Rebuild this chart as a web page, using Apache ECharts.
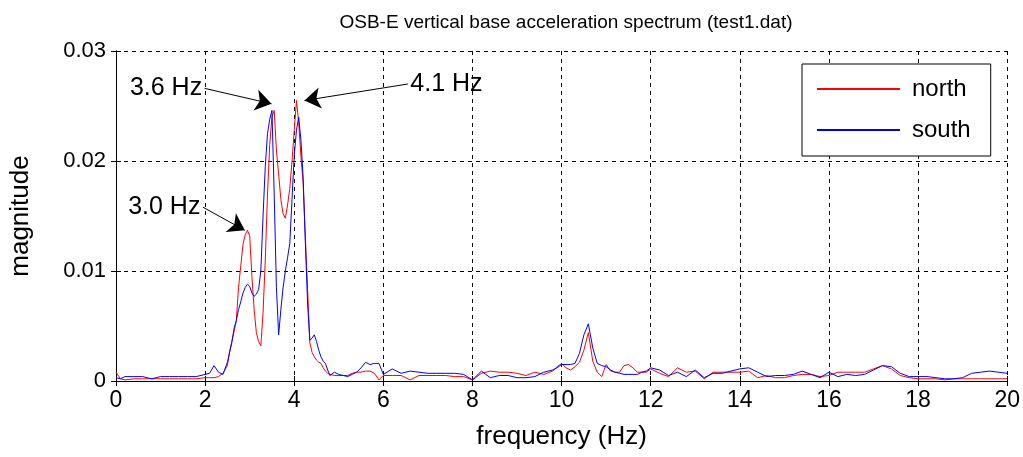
<!DOCTYPE html>
<html>
<head>
<meta charset="utf-8">
<script src="https://cdn.jsdelivr.net/npm/echarts@6/dist/echarts.min.js"></script>
<style>html,body{margin:0;padding:0;background:#fff}#c{width:1023px;height:457px}</style>
</head>
<body>
<div id="c"></div>
<script>
// frequency grid (Hz)
const freq = [
  0,0.1,0.2,0.4,0.6,0.8,1.0,1.2,1.4,1.6,1.8,2.0,
  2.1,2.2,2.3,2.4,2.5,
  2.55,2.60,2.65,2.70,2.75,2.80,2.85,2.90,2.95,
  3.00,3.05,3.10,3.15,3.20,3.25,3.30,3.35,3.40,3.45,3.50,3.55,3.60,3.65,3.70,3.75,3.80,3.85,3.90,3.95,
  4.00,4.05,4.10,4.15,4.20,4.25,4.30,4.35,4.40,4.45,4.50,4.55,4.60,4.65,4.70,4.75,4.80,
  4.9,5.0,5.1,5.2,5.3,5.4,5.5,5.6,5.7,5.8,5.9,6.0,
  6.2,6.4,6.6,6.8,7.0,7.2,7.4,7.6,7.8,8.0,8.2,8.4,8.6,8.8,9.0,9.2,9.4,9.6,9.8,
  9.9,10.0,10.1,10.2,10.3,10.4,10.5,10.6,10.7,10.8,10.9,11.0,11.1,11.2,11.3,11.4,11.5,11.6,11.7,11.8,11.9,12.0,
  12.2,12.4,12.6,12.8,13.0,13.2,13.4,13.6,13.8,14.0,14.2,14.4,14.6,14.8,15.0,15.2,15.4,15.6,15.8,16.0,
  16.2,16.4,16.6,16.8,17.0,17.2,17.4,17.6,17.8,18.0,18.2,18.4,18.6,18.8,19.0,19.2,19.4,19.6,19.8,20.0
];
const north = [
  0.0008,0.0002,0.0001,0.0002,0.0002,0.0002,0.0002,0.0002,0.0002,0.0002,0.0002,0.0003,
  0.0003,0.0003,0.0004,0.0007,0.0014,
  0.0027,0.0036,0.0045,0.0055,0.0085,0.0105,0.0124,0.0133,0.0137,
  0.0132,0.0095,0.0065,0.0044,0.0036,0.0032,0.0062,0.0110,0.0170,0.0215,0.0240,0.0246,0.0210,0.0188,0.0165,0.0152,0.0148,0.0160,0.0175,0.0200,
  0.0228,0.0255,0.0235,0.0204,0.0180,0.0130,0.0083,0.0035,0.0026,0.0022,0.0019,0.0017,0.0016,0.0012,0.0009,0.0007,0.0006,
  0.0005,0.0005,0.0005,0.0005,0.0007,0.0008,0.0008,0.0009,0.0009,0.0007,0.0001,0.0005,
  0.0005,0.0005,0.0001,0.0005,0.0005,0.0005,0.0005,0.0004,0.0004,0.0001,0.0007,0.0009,0.0008,0.0008,0.0007,0.0005,0.0008,0.0006,0.0009,
  0.0013,0.0016,0.0012,0.0010,0.0013,0.0017,0.0028,0.0044,0.0018,0.0008,0.0004,0.0015,0.0009,0.0008,0.0008,0.0014,0.0015,0.0012,0.0008,0.0008,0.0008,0.0011,
  0.0007,0.0004,0.0012,0.0008,0.0009,0.0002,0.0008,0.0008,0.0008,0.0008,0.0009,0.0003,0.0005,0.0003,0.0003,0.0005,0.0006,0.0006,0.0004,0.0005,
  0.0008,0.0008,0.0008,0.0008,0.0011,0.0014,0.0011,0.0005,0.0003,0.0002,0.0002,0.0002,0.0001,0.0002,0.0002,0.0002,0.0002,0.0002,0.0002,0.0002
];
const south = [
  0.0003,0.0002,0.0004,0.0004,0.0004,0.0002,0.0004,0.0004,0.0004,0.0004,0.0004,0.0006,
  0.0007,0.0014,0.0008,0.0006,0.0017,
  0.0026,0.0035,0.0048,0.0055,0.0065,0.0072,0.0080,0.0085,0.0088,
  0.0086,0.0080,0.0077,0.0079,0.0083,0.0100,0.0150,0.0195,0.0225,0.0238,0.0246,0.0170,0.0085,0.0042,0.0065,0.0085,0.0100,0.0112,0.0125,0.0165,
  0.0205,0.0228,0.0240,0.0219,0.0185,0.0125,0.0070,0.0037,0.0039,0.0042,0.0036,0.0028,0.0022,0.0018,0.0016,0.0010,0.0005,
  0.0008,0.0006,0.0005,0.0004,0.0006,0.0008,0.0012,0.0017,0.0015,0.0016,0.0016,0.0006,
  0.0011,0.0007,0.0009,0.0008,0.0007,0.0007,0.0007,0.0007,0.0006,0.0001,0.0009,0.0003,0.0005,0.0005,0.0003,0.0003,0.0004,0.0008,0.0010,
  0.0012,0.0015,0.0015,0.0015,0.0016,0.0025,0.0042,0.0052,0.0030,0.0016,0.0014,0.0013,0.0010,0.0008,0.0007,0.0006,0.0006,0.0006,0.0006,0.0008,0.0009,0.0012,
  0.0010,0.0005,0.0008,0.0004,0.0010,0.0003,0.0007,0.0007,0.0009,0.0011,0.0012,0.0008,0.0004,0.0005,0.0005,0.0006,0.0009,0.0006,0.0003,0.0008,
  0.0004,0.0006,0.0005,0.0006,0.0010,0.0014,0.0013,0.0007,0.0004,0.0004,0.0004,0.0003,0.0002,0.0002,0.0003,0.0007,0.0008,0.0009,0.0008,0.0007
];
// annotations: label text, label anchor [Hz, magnitude], arrow tip [Hz, magnitude], side of text
const annoText  = ['3.6 Hz', '4.1 Hz', '3.0 Hz'];
const annoFrom  = [[1.99, 0.0266], [6.55, 0.0270], [1.95, 0.0158]];
const annoTo    = [[3.49, 0.0252], [4.23, 0.0255], [2.89, 0.0137]];
const annoSide  = ['left', 'right', 'left'];

const FONT = "'Liberation Sans', Arial, sans-serif";
const chart = echarts.init(document.getElementById('c'), null, {renderer: 'canvas'});
const toPairs = arr => freq.map((f, i) => [f, arr[i]]);

chart.setOption({
  animation: false,
  backgroundColor: '#fff',
  title: {
    text: 'OSB-E vertical base acceleration spectrum (test1.dat)',
    left: 561, top: 8, textAlign: 'center',
    textStyle: {fontFamily: FONT, fontSize: 19, fontWeight: 'normal', color: '#000'}
  },
  legend: {
    data: ['north', 'south'],
    orient: 'vertical',
    left: 802, top: 64,
    backgroundColor: '#fff',
    borderColor: '#000', borderWidth: 1,
    padding: [13, 20, 14, 15],
    itemWidth: 83, itemHeight: 2, itemGap: 17,
    icon: 'rect',
    textStyle: {fontFamily: FONT, fontSize: 24, color: '#000', padding: [0, 0, 0, 7]}
  },
  grid: {left: 116, right: 15, top: 51, bottom: 76, show: false},
  xAxis: [{
    type: 'value', min: 0, max: 20, interval: 2,
    name: 'frequency (Hz)', nameLocation: 'middle', nameGap: 43,
    nameTextStyle: {fontFamily: FONT, fontSize: 26, color: '#000'},
    axisLine: {show: true, onZero: false, lineStyle: {color: '#000', width: 1}},
    axisTick: {show: true, inside: true, length: 5, lineStyle: {color: '#000'}},
    axisLabel: {fontFamily: FONT, fontSize: 23, color: '#000', margin: 8},
    splitLine: {show: true, lineStyle: {color: '#000', type: [4, 4], width: 1}}
  }, {
    type: 'value', min: 0, max: 20, interval: 2, position: 'top',
    axisLine: {show: true, lineStyle: {color: '#000', width: 1}},
    axisTick: {show: true, inside: true, length: 5, lineStyle: {color: '#000'}},
    axisLabel: {show: false}, splitLine: {show: false}
  }],
  yAxis: [{
    type: 'value', min: 0, max: 0.03, interval: 0.01,
    name: 'magnitude', nameLocation: 'middle', nameGap: 82, nameRotate: 90,
    nameTextStyle: {fontFamily: FONT, fontSize: 26, color: '#000'},
    axisLine: {show: true, onZero: false, lineStyle: {color: '#000', width: 1}},
    axisTick: {show: true, inside: true, length: 5, lineStyle: {color: '#000'}},
    axisLabel: {fontFamily: FONT, fontSize: 22, color: '#000', margin: 10},
    splitLine: {show: true, lineStyle: {color: '#000', type: [4, 4], width: 1}}
  }, {
    type: 'value', min: 0, max: 0.03, interval: 0.01, position: 'right',
    axisLine: {show: true, lineStyle: {color: '#000', width: 1}},
    axisTick: {show: true, inside: true, length: 5, lineStyle: {color: '#000'}},
    axisLabel: {show: false}, splitLine: {show: false}
  }],
  series: [{
    name: 'north', type: 'line', data: toPairs(north),
    xAxisIndex: 0, yAxisIndex: 0,
    showSymbol: false, symbol: 'none',
    lineStyle: {color: '#ff0000', width: 1}, itemStyle: {color: '#ff0000'},
    markLine: {
      silent: true, symbol: ['none', 'arrow'], symbolSize: 16,
      lineStyle: {color: '#000', width: 1, type: 'solid'},
      label: {show: false},
      data: annoFrom.map((a, i) => [{coord: a}, {coord: annoTo[i]}])
    },
    markPoint: {
      silent: true, symbol: 'circle', symbolSize: 1,
      itemStyle: {color: 'rgba(0,0,0,0)'},
      data: annoText.map((t, i) => ({
        coord: annoFrom[i], name: t,
        label: {show: true, position: annoSide[i], distance: 2, formatter: t,
                fontFamily: FONT, fontSize: 25, color: '#000'}
      }))
    }
  }, {
    name: 'south', type: 'line', data: toPairs(south),
    xAxisIndex: 0, yAxisIndex: 0,
    showSymbol: false, symbol: 'none',
    lineStyle: {color: '#0000ff', width: 1}, itemStyle: {color: '#0000ff'}
  }]
});
</script>
</body>
</html>
